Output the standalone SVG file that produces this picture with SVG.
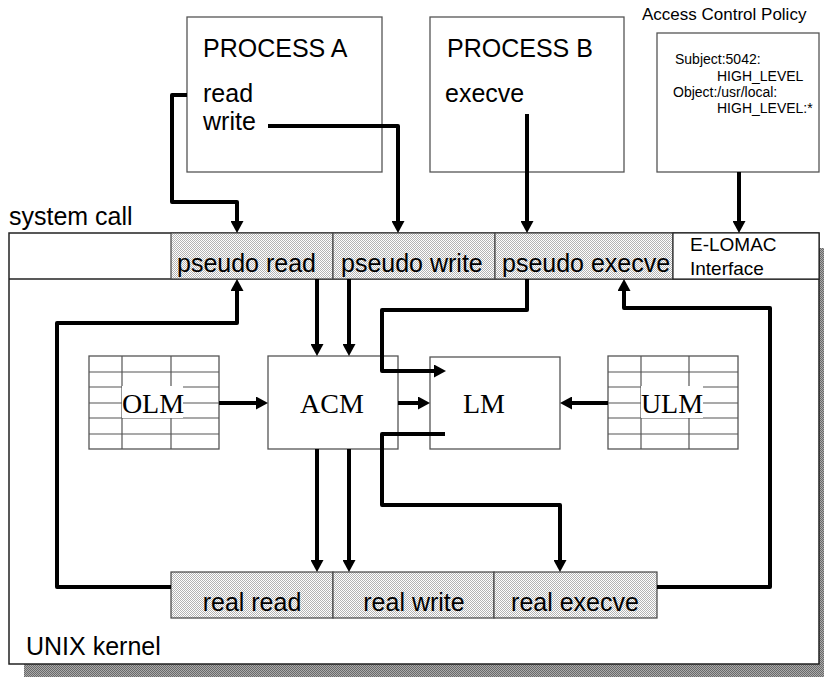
<svg xmlns="http://www.w3.org/2000/svg" width="824" height="677" viewBox="0 0 824 677">
<defs>
<pattern id="dots" width="2" height="2" patternUnits="userSpaceOnUse"><rect width="2" height="2" fill="#fff"/><rect width="1" height="1" fill="#b4b4b4"/><rect x="1" y="1" width="1" height="1" fill="#b4b4b4"/></pattern>
<pattern id="shade" width="2" height="2" patternUnits="userSpaceOnUse"><rect width="2" height="2" fill="#aaa"/><rect width="1" height="1" fill="#6a6a6a"/><rect x="1" y="1" width="1" height="1" fill="#6a6a6a"/></pattern>
<marker id="ah" markerWidth="12" markerHeight="13" refX="4" refY="6.5" orient="auto" markerUnits="userSpaceOnUse"><path d="M0,0 L12,6.5 L0,13 z" fill="#000"/></marker>
<style>
.t{font-family:"Liberation Sans",Arial,sans-serif;font-size:25px;fill:#000}
.s{font-family:"Liberation Sans",Arial,sans-serif;font-size:14px;fill:#000}
.m{font-family:"Liberation Serif","Times New Roman",serif;font-size:28px;fill:#000;text-anchor:middle}
.box{fill:#fff;stroke:#555;stroke-width:1.3}
.cell{fill:url(#dots);stroke:#444;stroke-width:1.2}
.grid{stroke:#555;stroke-width:1.2;fill:none}
.c{fill:none;stroke:#000;stroke-width:4;stroke-linejoin:round}
.a{marker-end:url(#ah)}
</style>
</defs>
<rect width="824" height="677" fill="#fff"/>

<g id="kernel">
<rect x="24" y="248" width="810" height="431" fill="url(#shade)"/>
<rect x="9" y="233" width="810" height="431" fill="#fff" stroke="#222" stroke-width="1.5"/>
<line x1="9" y1="279" x2="819" y2="279" stroke="#222" stroke-width="1.3"/>
<text class="t" x="26" y="655">UNIX kernel</text>
</g>
<text id="syscall-label" class="t" x="9" y="225">system call</text>

<g id="pseudo-read"><rect class="cell" x="171" y="233" width="162" height="46"/><text class="t" x="177" y="272">pseudo read</text></g>
<g id="pseudo-write"><rect class="cell" x="333" y="233" width="162" height="46"/><text class="t" x="341" y="272">pseudo write</text></g>
<g id="pseudo-execve"><rect class="cell" x="495" y="233" width="178" height="46"/><text class="t" x="502" y="272">pseudo execve</text></g>
<g id="elomac"><rect x="673" y="233" width="146" height="46" fill="#fff" stroke="#222" stroke-width="1.2"/><text class="t" x="690" y="251" style="font-size:19px">E-LOMAC</text><text class="t" x="690" y="275" style="font-size:19px">Interface</text></g>

<g id="process-a"><rect class="box" x="187" y="17" width="195" height="155"/><text class="t" x="203" y="57">PROCESS A</text><text class="t" x="203" y="102">read</text><text class="t" x="203" y="130">write</text></g>
<g id="process-b"><rect class="box" x="430" y="17" width="194" height="155"/><text class="t" x="447" y="57">PROCESS B</text><text class="t" x="445" y="102">execve</text></g>
<g id="policy"><text class="t" x="642" y="20" style="font-size:17px">Access Control Policy</text><rect class="box" x="657" y="33" width="162" height="139"/>
<text class="s" x="675" y="64">Subject:5042:</text><text class="s" x="717" y="81">HIGH_LEVEL</text><text class="s" x="673" y="97">Object:/usr/local:</text><text class="s" x="717" y="113">HIGH_LEVEL:*</text></g>

<g id="olm">
<rect class="box" x="89" y="356" width="130" height="93"/>
<path class="grid" d="M122,356V449M171,356V449M89,372H219M89,387H219M89,403H219M89,418H219M89,434H219"/>
<rect x="122" y="386" width="61" height="32" fill="#fff"/>
<text class="m" x="153" y="413">OLM</text>
</g>
<g id="acm"><rect class="box" x="268" y="356" width="130" height="93"/><text class="m" x="332" y="413">ACM</text></g>
<g id="lm"><rect class="box" x="430" y="357" width="130" height="92"/><text class="m" x="484" y="413">LM</text></g>
<g id="ulm">
<rect class="box" x="608" y="356" width="130" height="93"/>
<path class="grid" d="M641,356V449M689,356V449M608,372H738M608,387H738M608,403H738M608,418H738M608,434H738"/>
<rect x="641" y="386" width="62" height="32" fill="#fff"/>
<text class="m" x="672" y="413">ULM</text>
</g>

<g id="real-read"><rect class="cell" x="171" y="572" width="162" height="46"/><text class="t" x="252" y="611" text-anchor="middle">real read</text></g>
<g id="real-write"><rect class="cell" x="333" y="572" width="161" height="46"/><text class="t" x="414" y="611" text-anchor="middle">real write</text></g>
<g id="real-execve"><rect class="cell" x="494" y="572" width="163" height="46"/><text class="t" x="575" y="611" text-anchor="middle">real execve</text></g>

<g id="connectors">
<path class="c a" d="M187,95H172V202H237V225"/>
<path class="c a" d="M268,126H398V225"/>
<path class="c a" d="M527,114V225"/>
<path class="c a" d="M739,172V225"/>
<path class="c a" d="M171,587H57V323H237V287"/>
<path class="c a" d="M657,587H770V308H624V287"/>
<path class="c a" d="M317,279V348"/>
<path class="c a" d="M349,279V348"/>
<path class="c a" d="M527,279V310H382V371H438"/>
<path class="c a" d="M219,403H260"/>
<path class="c a" d="M398,403H422"/>
<path class="c a" d="M608,403H568"/>
<path class="c a" d="M317,449V564"/>
<path class="c a" d="M349,449V564"/>
<path class="c a" d="M445,434H382V505H560V564"/>
</g>
</svg>
